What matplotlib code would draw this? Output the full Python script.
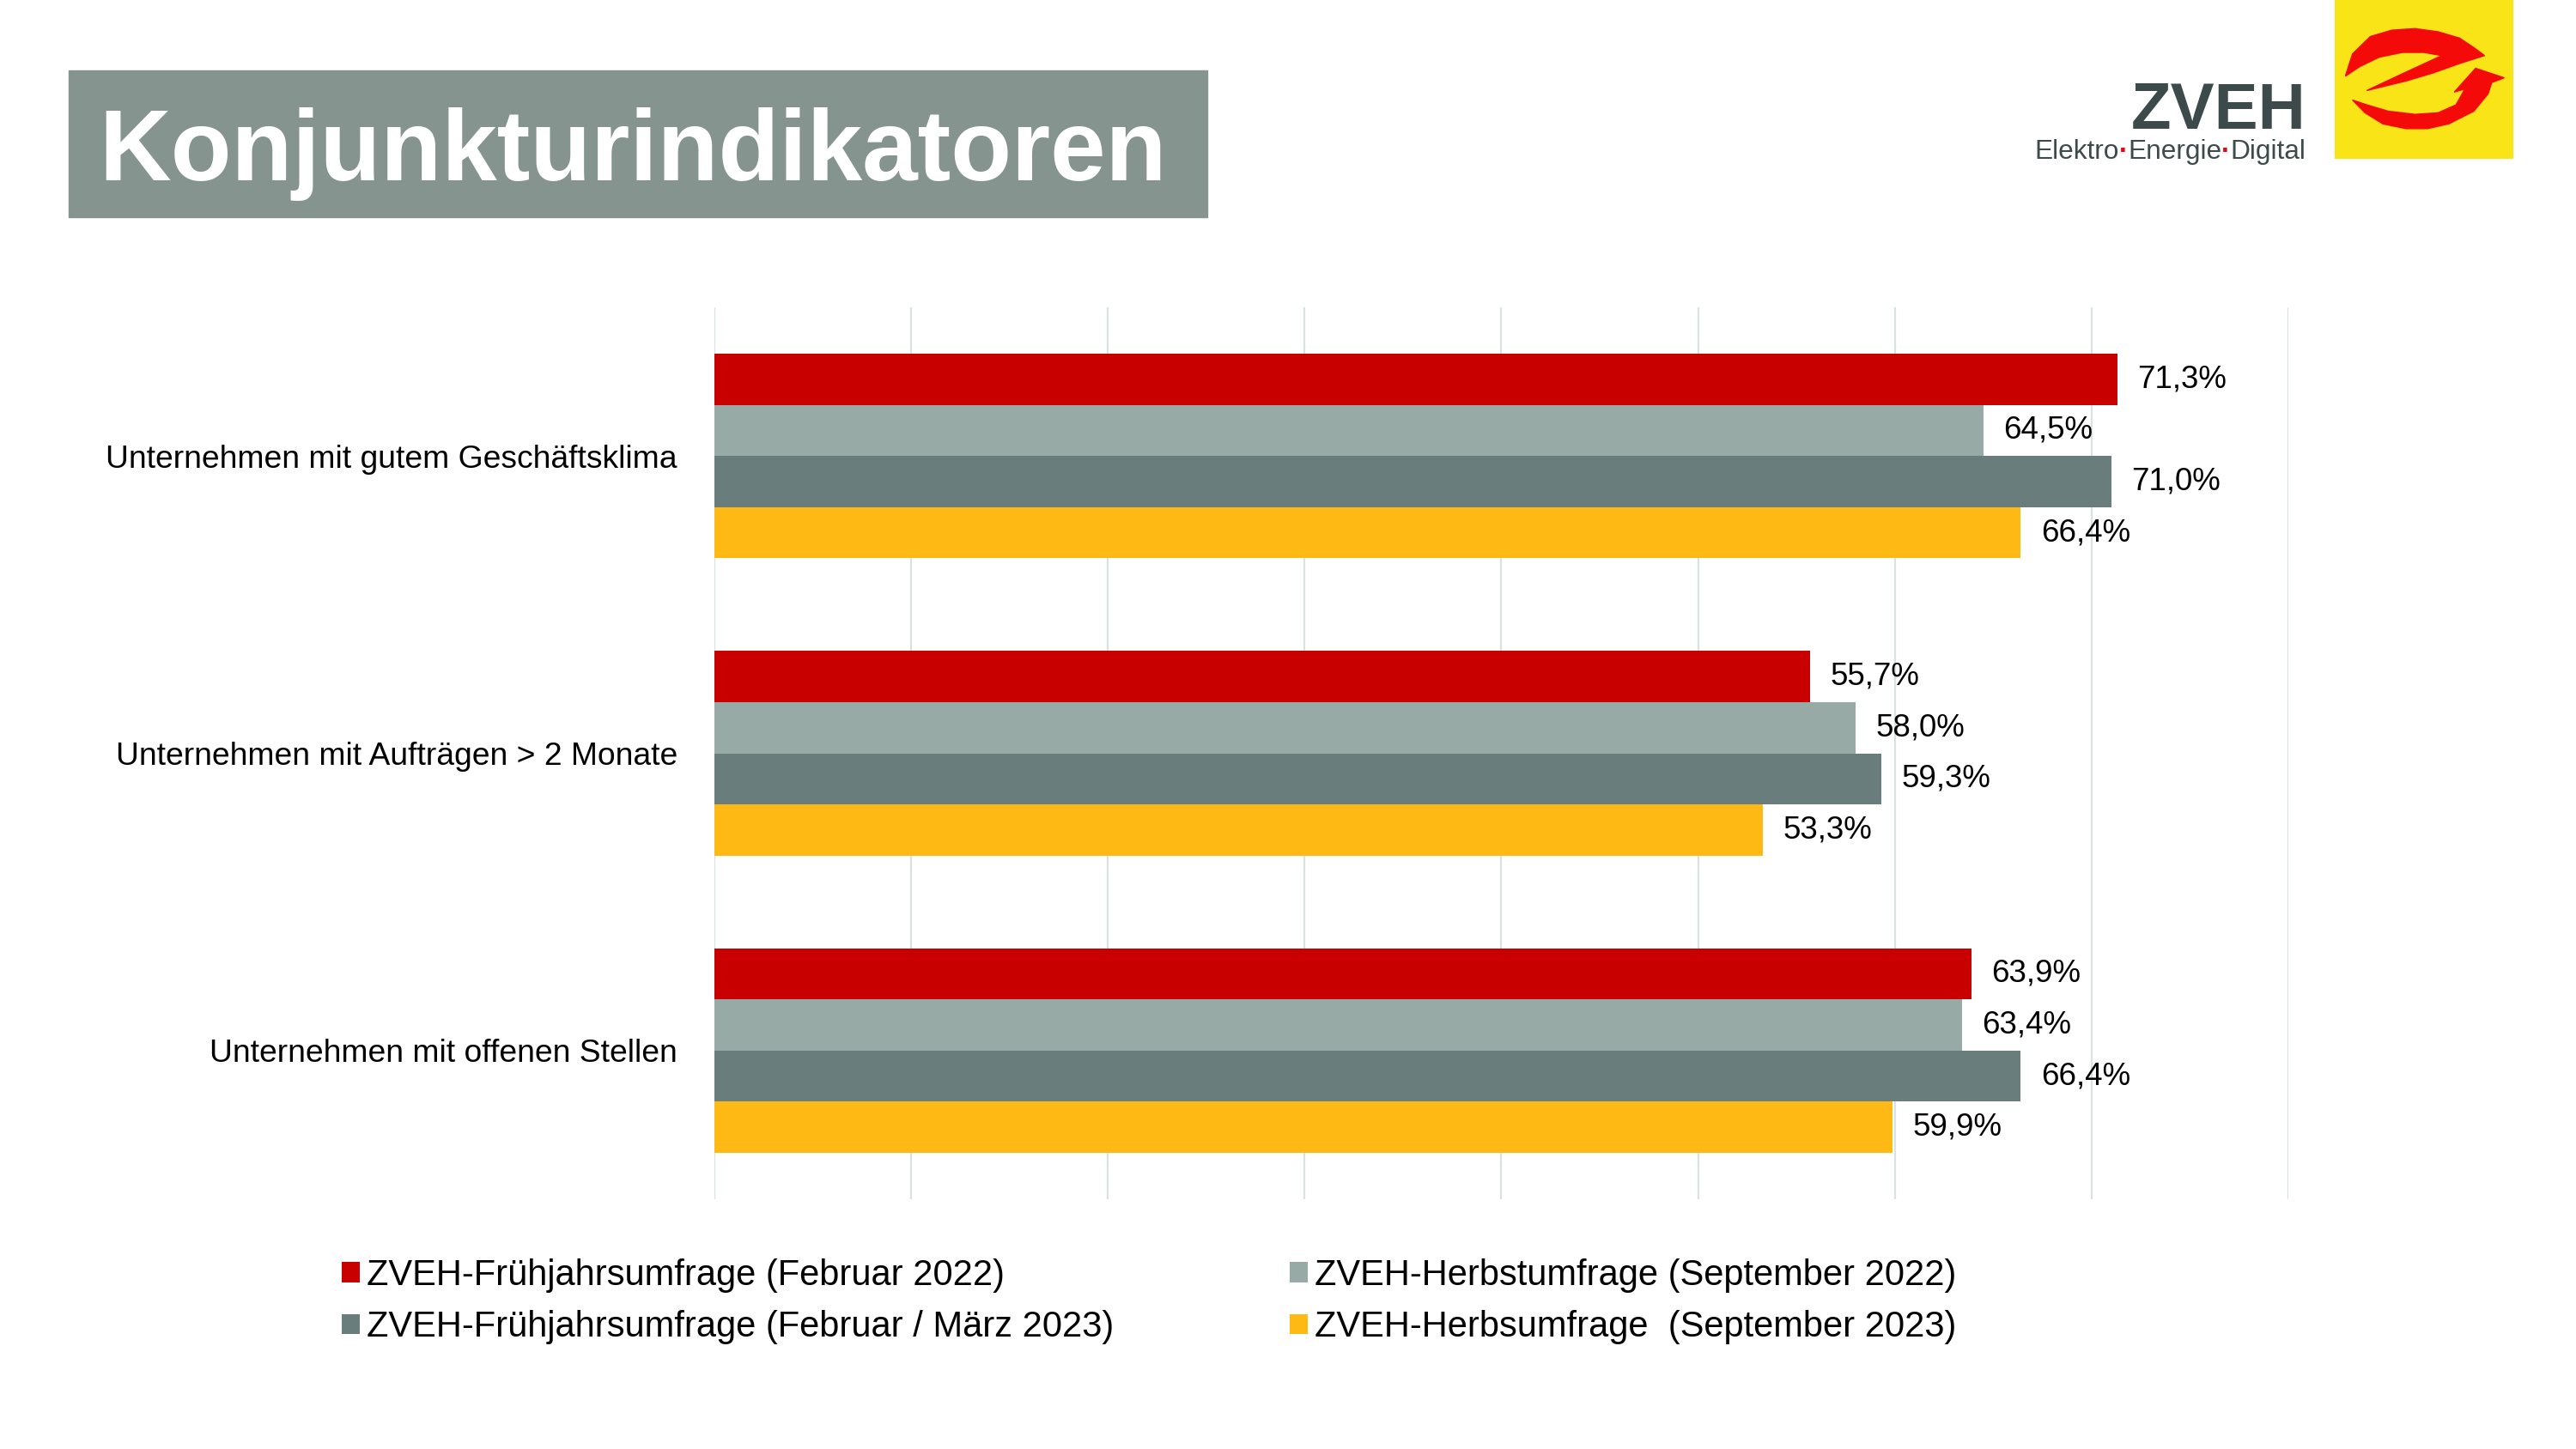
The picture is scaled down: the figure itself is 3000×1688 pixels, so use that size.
import numpy as np
import matplotlib.pyplot as plt
from matplotlib.patches import Rectangle, Polygon

plt.rcParams['font.family'] = ['Liberation Sans', 'DejaVu Sans']

# Daten
kategorien = ["Unternehmen mit gutem Geschäftsklima",
              "Unternehmen mit Aufträgen > 2 Monate",
              "Unternehmen mit offenen Stellen"]
serien = ["ZVEH-Frühjahrsumfrage (Februar 2022)",
          "ZVEH-Herbstumfrage (September 2022)",
          "ZVEH-Frühjahrsumfrage (Februar / März 2023)",
          "ZVEH-Herbsumfrage  (September 2023)"]
fruehjahr_2022 = [71.3, 55.7, 63.9]
herbst_2022 = [64.5, 58.0, 63.4]
fruehjahr_2023 = [71.0, 59.3, 66.4]
herbst_2023 = [66.4, 53.3, 59.9]
farben = ["#C80000", "#98AAA6", "#697D7D", "#FFB914"]

werte = [fruehjahr_2022, herbst_2022, fruehjahr_2023, herbst_2023]

fig = plt.figure(figsize=(30, 16.88), dpi=100)
ax = fig.add_axes([0.2773, 0.1724, 0.611, 0.6155])

y = np.arange(len(kategorien))
h = 0.172
balken = []
for i, (w, c, name) in enumerate(zip(werte, farben, serien)):
    b = ax.barh(y + (i - 1.5) * h, w, height=h, color=c, label=name, zorder=3)
    balken.append(b)
    ax.bar_label(b, labels=[f"{v:.1f}%".replace('.', ',') for v in w],
                 padding=17, fontsize=26.5, color='black')

ax.set_xlim(0, 80)
ax.set_ylim(2.5, -0.5)
ax.set_xticks(np.arange(0, 81, 10))
ax.set_xticklabels([])
ax.tick_params(axis='x', length=0)
ax.set_yticks(y)
ax.set_yticklabels(kategorien, fontsize=26.8)
ax.tick_params(axis='y', length=0, pad=31)
ax.grid(axis='x', color='#D9E2E2', linewidth=1.6, zorder=0)
for s in ax.spines.values():
    s.set_visible(False)

# Legende (zeilenweise wie im Original)
reihenfolge = [0, 2, 1, 3]
fig.legend([balken[i] for i in reihenfolge], [serien[i] for i in reihenfolge],
           ncol=2, loc='center left', bbox_to_anchor=(0.1327, 0.1019),
           frameon=False, fontsize=30, handlelength=0.5, handleheight=0.5,
           handletextpad=0.2, columnspacing=4.9, labelspacing=0.5,
           borderpad=0, borderaxespad=0)

# Titel
fig.patches.append(Rectangle((0.0267, 0.8501), 0.442, 0.1013,
                             transform=fig.transFigure, color='#86948F', zorder=0))
fig.text(0.0383, 0.8756, "Konjunkturindikatoren", fontsize=83.5,
         fontweight='bold', color='white', va='baseline', ha='left')

# Logo
grau = '#3D4A4C'
fig.text(0.895, 0.9111, "ZVEH", fontsize=55, fontweight='bold', color=grau,
         ha='right', va='baseline')
prev = fig.text(0.7897, 0.8904, "Elektro", fontsize=22.8, color=grau,
                ha='left', va='baseline')
for teil, farbe in [("·", '#E30613'), ("Energie", grau), ("·", '#E30613'), ("Digital", grau)]:
    prev = fig.add_artist(plt.Annotation(teil, xy=(1, 0), xycoords=prev,
                                         fontsize=22.8, color=farbe,
                                         ha='left', va='bottom',
                                         fontweight='bold' if teil == "·" else 'normal'))

lax = fig.add_axes([0.9063, 0.8904, 0.0693, 0.1096])
lax.set_facecolor('#F9E418')
lax.set_xlim(0, 1)
lax.set_ylim(0, 1)
lax.set_xticks([])
lax.set_yticks([])
for s in lax.spines.values():
    s.set_visible(False)
rot = '#F50A0A'
oben = [(0.06, 0.52), (0.10, 0.66), (0.20, 0.77), (0.32, 0.81), (0.45, 0.82),
        (0.58, 0.80), (0.70, 0.76), (0.78, 0.70), (0.84, 0.65), (0.70, 0.60),
        (0.55, 0.54), (0.40, 0.49), (0.18, 0.43), (0.35, 0.52), (0.60, 0.65),
        (0.50, 0.67), (0.38, 0.67), (0.25, 0.64), (0.14, 0.58)]
unten = [(0.10, 0.37), (0.17, 0.29), (0.27, 0.22), (0.40, 0.19), (0.52, 0.19),
         (0.64, 0.22), (0.78, 0.30), (0.86, 0.41), (0.88, 0.48), (0.95, 0.51),
         (0.79, 0.57), (0.67, 0.42), (0.73, 0.44), (0.68, 0.34), (0.58, 0.29),
         (0.45, 0.28), (0.30, 0.30), (0.18, 0.34)]
lax.add_patch(Polygon(oben, closed=True, color=rot))
lax.add_patch(Polygon(unten, closed=True, color=rot))

fig.savefig("out.png", dpi=100)
